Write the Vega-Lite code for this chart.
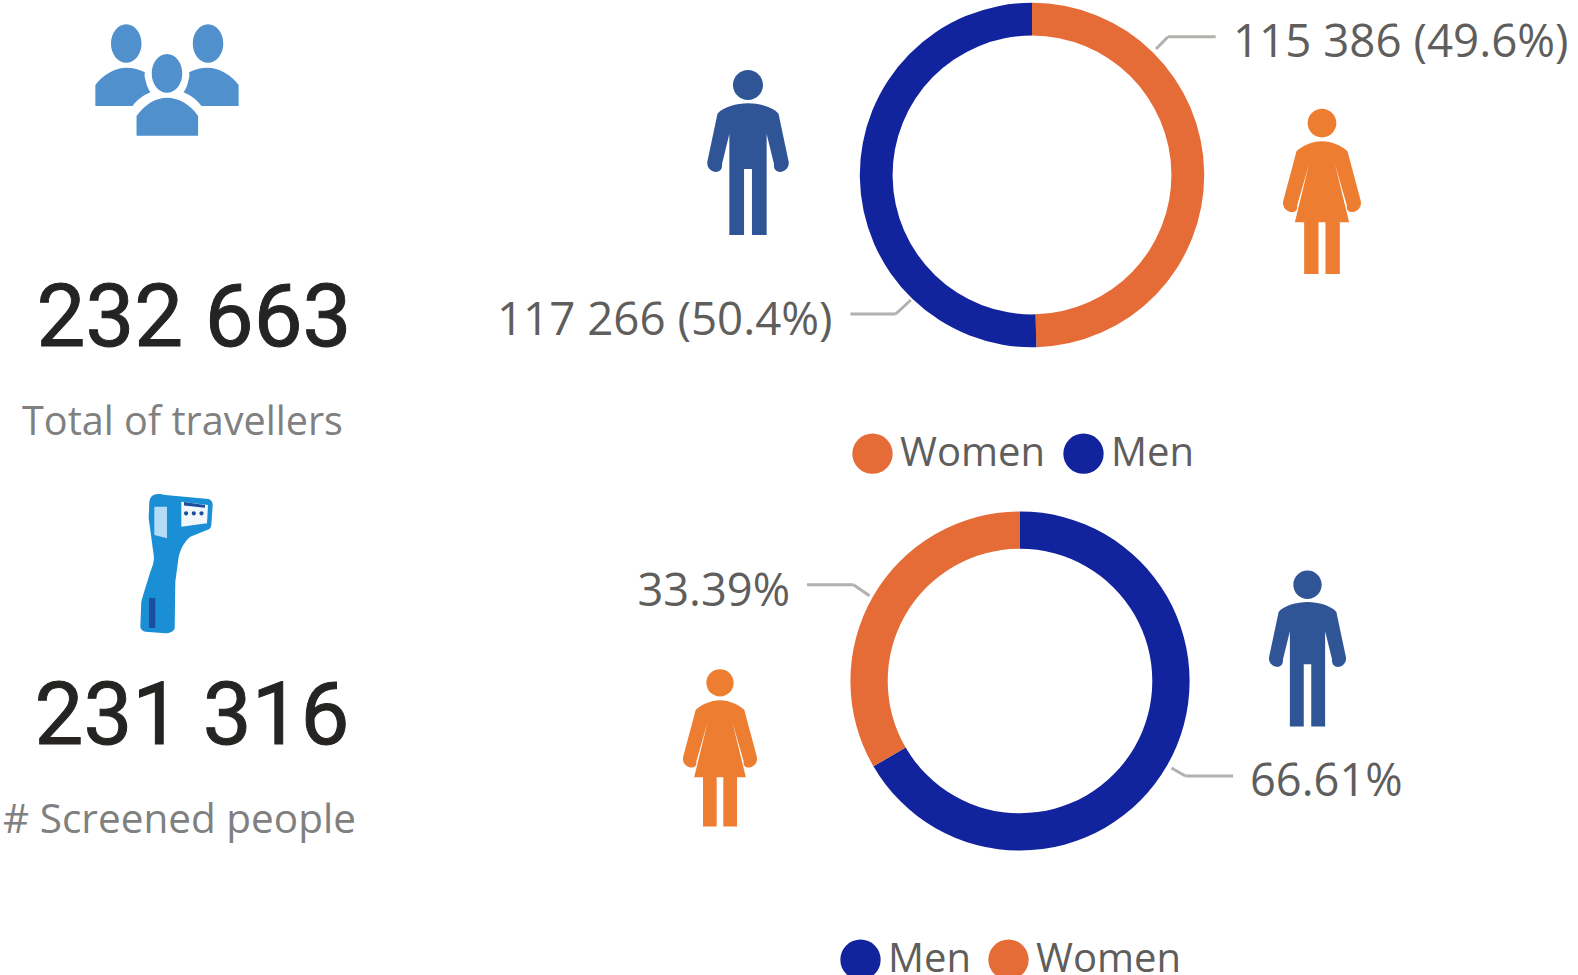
{"$schema":"https://vega.github.io/schema/vega-lite/v6.json","padding":0,"background":"white","bounds":"flush","spacing":486,"config":{"view":{"stroke":null},"axis":{"disable":true},"text":{"font":"Open Sans"}},"resolve":{"scale":{"color":"independent"}},"datasets":{"women1":[{"gender":"Women","count":115386},{"gender":"Men","count":117266}],"women2":[{"gender":"Men","share":66.61},{"gender":"Women","share":33.39}]},"hconcat":[{"spacing":0,"bounds":"flush","vconcat":[{"width":334,"height":272,"data":{"values":[{"icon":"Travellers"}]},"mark":{"type":"point","filled":true,"opacity":1,"color":"#5090CD","size":20736,"strokeWidth":0,"shape":"M-.778 -.508A.212 .268 0 1 0 -.354 -.508A.212 .268 0 1 0 -.778 -.508ZM.358 -.508A.212 .268 0 1 0 .782 -.508A.212 .268 0 1 0 .358 -.508ZM-.212 -.092A.212 .268 0 1 0 .212 -.092A.212 .268 0 1 0 -.212 -.092ZM-.995 .36L-.995 .07C-.9 -.07 -.72 -.171 -.561 -.171C-.47 -.171 -.38 -.145 -.307 -.106C-.32 -.05 -.3 0 -.293 .023C-.28 .09 -.25 .14 -.229 .171C-.33 .21 -.42 .28 -.478 .36ZM.995 .36L.995 .07C.9 -.07 .72 -.171 .561 -.171C.47 -.171 .38 -.145 .307 -.106C.32 -.05 .3 0 .293 .023C.28 .09 .25 .14 .229 .171C.33 .21 .42 .28 .478 .36ZM-.423 .776L-.423 .499C-.3 .33 -.15 .245 0 .245C.15 .245 .32 .33 .432 .499L.432 .776Z"},"encoding":{"y":{"datum":80,"type":"quantitative","scale":{"domain":[272,0]}}}},{"width":388,"height":96,"data":{"values":[{"metric":"Total of travellers","value":"232 663"}]},"mark":{"type":"text","font":"Roboto","fontSize":87,"fontWeight":400,"color":"#252423","stroke":"#252423","strokeWidth":1,"align":"center","baseline":"middle"},"encoding":{"text":{"field":"value"}}},{"width":365,"height":110,"data":{"values":[{"metric":"Total of travellers"}]},"mark":{"type":"text","fontSize":39.6,"color":"#808080","align":"center","baseline":"middle"},"encoding":{"text":{"field":"metric"}}},{"width":354,"height":170,"data":{"values":[{"icon":"Thermometer"}]},"layer":[{"mark":{"type":"point","filled":true,"opacity":1,"color":"#1A8FD6","size":19600,"strokeWidth":0,"shape":"M-.333 -.971C-.28 -1 -.2 -.98 -.167 -.971L.452 -.914C.49 -.9 .51 -.87 .51 -.829L.49 -.543C.485 -.5 .46 -.48 .429 -.471L.19 -.376C.1 -.3 .05 -.2 .024 -.09L-.024 .267L-.033 .933C-.05 .98 -.1 1.005 -.167 1.005L-.452 .981C-.5 .97 -.52 .94 -.524 .91L-.51 .552C-.47 .4 -.42 .26 -.381 .124C-.35 .05 -.32 -.03 -.333 -.114L-.405 -.638L-.395 -.876C-.39 -.93 -.36 -.96 -.333 -.971Z"}},{"mark":{"type":"point","filled":true,"opacity":1,"color":"#B5DCF5","size":19600,"strokeWidth":0,"shape":"M-.324 -.805L-.143 -.805L-.143 -.352L-.324 -.4Z"}},{"mark":{"type":"point","filled":true,"opacity":1,"color":"#F2F7FB","size":19600,"strokeWidth":0,"shape":"M.062 -.876L.443 -.829L.429 -.567L.062 -.519Z"}},{"mark":{"type":"point","filled":true,"opacity":1,"color":"#1B4F9C","size":19600,"strokeWidth":0,"shape":"M.1 -.87L.4 -.83L.4 -.79L.1 -.82ZM.1 -.71A.03 .03 0 1 0 .16 -.71A.03 .03 0 1 0 .1 -.71ZM.21 -.71A.03 .03 0 1 0 .27 -.71A.03 .03 0 1 0 .21 -.71ZM.32 -.71A.03 .03 0 1 0 .38 -.71A.03 .03 0 1 0 .32 -.71ZM-.4 .5L-.31 .5L-.31 .93L-.4 .93Z"}}]},{"width":384,"height":140,"data":{"values":[{"metric":"# Screened people","value":"231 316"}]},"mark":{"type":"text","font":"Roboto","fontSize":87,"fontWeight":400,"color":"#252423","stroke":"#252423","strokeWidth":1,"align":"center","baseline":"middle"},"encoding":{"text":{"field":"value"}}},{"width":359,"height":66,"data":{"values":[{"metric":"# Screened people"}]},"mark":{"type":"text","fontSize":40.5,"color":"#808080","align":"center","baseline":"middle"},"encoding":{"text":{"field":"metric"}}}]},{"spacing":150,"bounds":"flush","resolve":{"scale":{"color":"independent"}},"vconcat":[{"width":1092,"height":350,"layer":[{"data":{"name":"women1"},"mark":{"type":"arc","radius":172.2,"radius2":139.4},"encoding":{"theta":{"field":"count","type":"quantitative","stack":true},"order":{"field":"count","sort":"ascending"},"color":{"field":"gender","type":"nominal","scale":{"domain":["Women","Men"],"range":["#E66C37","#12239E"]},"legend":{"orient":"none","legendX":366,"legendY":433,"title":null,"direction":"horizontal","symbolType":"circle","symbolSize":1625,"symbolStrokeWidth":0,"symbolOpacity":1,"labelFontSize":40,"labelFont":"Open Sans","labelColor":"#605E5C","labelOffset":7,"columnPadding":17,"padding":0,"labelLimit":300}}}},{"data":{"values":[{"leader":"Women"}]},"mark":{"type":"rule","color":"#B3B0AD","strokeWidth":3},"encoding":{"x":{"datum":124,"type":"quantitative","scale":{"domain":[-546,546]}},"y":{"datum":126,"type":"quantitative","scale":{"domain":[-175,175]}},"x2":{"datum":136},"y2":{"datum":138.3}}},{"data":{"values":[{"leader":"Women"}]},"mark":{"type":"rule","color":"#B3B0AD","strokeWidth":3},"encoding":{"x":{"datum":136,"type":"quantitative","scale":{"domain":[-546,546]}},"y":{"datum":138.3,"type":"quantitative","scale":{"domain":[-175,175]}},"x2":{"datum":183.7},"y2":{"datum":138.3}}},{"data":{"values":[{"leader":"Men"}]},"mark":{"type":"rule","color":"#B3B0AD","strokeWidth":3},"encoding":{"x":{"datum":-181.6,"type":"quantitative","scale":{"domain":[-546,546]}},"y":{"datum":-139,"type":"quantitative","scale":{"domain":[-175,175]}},"x2":{"datum":-136.3},"y2":{"datum":-139}}},{"data":{"values":[{"leader":"Men"}]},"mark":{"type":"rule","color":"#B3B0AD","strokeWidth":3},"encoding":{"x":{"datum":-136.3,"type":"quantitative","scale":{"domain":[-546,546]}},"y":{"datum":-139,"type":"quantitative","scale":{"domain":[-175,175]}},"x2":{"datum":-121.2},"y2":{"datum":-125}}},{"data":{"values":[{"label":"115 386 (49.6%)"}]},"mark":{"type":"text","fontSize":45.7,"color":"#605E5C","align":"left","baseline":"middle"},"encoding":{"text":{"field":"label"},"x":{"datum":201,"type":"quantitative","scale":{"domain":[-546,546]}},"y":{"datum":132,"type":"quantitative","scale":{"domain":[-175,175]}}}},{"data":{"values":[{"label":"117 266 (50.4%)"}]},"mark":{"type":"text","fontSize":45.7,"color":"#605E5C","align":"right","baseline":"middle"},"encoding":{"text":{"field":"label"},"x":{"datum":-199.5,"type":"quantitative","scale":{"domain":[-546,546]}},"y":{"datum":-146,"type":"quantitative","scale":{"domain":[-175,175]}}}},{"data":{"values":[{"icon":"Man"}]},"mark":{"type":"point","filled":true,"opacity":1,"color":"#2F5597","size":27225,"strokeWidth":0,"shape":"M-.182 -.818A.182 .182 0 1 0 .182 -.818A.182 .182 0 1 0 -.182 -.818ZM0 -.596C-.14 -.596 -.3 -.55 -.37 -.47L-.493 .111C-.51 .25 -.3 .29 -.315 .139L-.226 -.224L-.226 1L-.048 1L-.048 .2L.048 .2L.048 1L.226 1L.226 -.224L.315 .139C.3 .29 .51 .25 .493 .111L.37 -.47C.3 -.55 .14 -.596 0 -.596Z"},"encoding":{"x":{"datum":-284,"type":"quantitative","scale":{"domain":[-546,546]}},"y":{"datum":22.5,"type":"quantitative","scale":{"domain":[-175,175]}}}},{"data":{"values":[{"icon":"Woman"}]},"mark":{"type":"point","filled":true,"opacity":1,"color":"#ED7D31","size":27556,"strokeWidth":0,"shape":"M-.173 -.819A.173 .173 0 1 0 .173 -.819A.173 .173 0 1 0 -.173 -.819ZM0 -.598C-.12 -.598 -.24 -.54 -.307 -.478L-.468 .124C-.49 .26 -.28 .31 -.299 .173L-.158 -.317L-.327 .378L-.215 .378L-.215 1L-.042 1L-.042 .378L.042 .378L.042 1L.215 1L.215 .378L.327 .378L.158 -.317L.299 .173C.28 .31 .49 .26 .468 .124L.307 -.478C.24 -.54 .12 -.598 0 -.598Z"},"encoding":{"x":{"datum":290,"type":"quantitative","scale":{"domain":[-546,546]}},"y":{"datum":-16,"type":"quantitative","scale":{"domain":[-175,175]}}}}]},{"width":1068,"height":362,"layer":[{"data":{"name":"women2"},"mark":{"type":"arc","radius":169.6,"radius2":132.3},"encoding":{"theta":{"field":"share","type":"quantitative","stack":true},"order":{"field":"share","sort":"descending"},"color":{"field":"gender","type":"nominal","scale":{"domain":["Men","Women"],"range":["#12239E","#E66C37"]},"legend":{"orient":"none","legendX":354,"legendY":439,"title":null,"direction":"horizontal","symbolType":"circle","symbolSize":1625,"symbolStrokeWidth":0,"symbolOpacity":1,"labelFontSize":40,"labelFont":"Open Sans","labelColor":"#605E5C","labelOffset":7,"columnPadding":17,"padding":0,"labelLimit":300}}}},{"data":{"values":[{"leader":"Women"}]},"mark":{"type":"rule","color":"#B3B0AD","strokeWidth":3},"encoding":{"x":{"datum":-213,"type":"quantitative","scale":{"domain":[-534,534]}},"y":{"datum":96.3,"type":"quantitative","scale":{"domain":[-181,181]}},"x2":{"datum":-166.6},"y2":{"datum":96.3}}},{"data":{"values":[{"leader":"Women"}]},"mark":{"type":"rule","color":"#B3B0AD","strokeWidth":3},"encoding":{"x":{"datum":-166.6,"type":"quantitative","scale":{"domain":[-534,534]}},"y":{"datum":96.3,"type":"quantitative","scale":{"domain":[-181,181]}},"x2":{"datum":-150.5},"y2":{"datum":85.2}}},{"data":{"values":[{"leader":"Men"}]},"mark":{"type":"rule","color":"#B3B0AD","strokeWidth":3},"encoding":{"x":{"datum":213,"type":"quantitative","scale":{"domain":[-534,534]}},"y":{"datum":-95,"type":"quantitative","scale":{"domain":[-181,181]}},"x2":{"datum":165.5},"y2":{"datum":-95}}},{"data":{"values":[{"leader":"Men"}]},"mark":{"type":"rule","color":"#B3B0AD","strokeWidth":3},"encoding":{"x":{"datum":165.5,"type":"quantitative","scale":{"domain":[-534,534]}},"y":{"datum":-95,"type":"quantitative","scale":{"domain":[-181,181]}},"x2":{"datum":151.4},"y2":{"datum":-87}}},{"data":{"values":[{"label":"33.39%"}]},"mark":{"type":"text","fontSize":45.2,"color":"#605E5C","align":"right","baseline":"middle"},"encoding":{"text":{"field":"label"},"x":{"datum":-230,"type":"quantitative","scale":{"domain":[-534,534]}},"y":{"datum":89,"type":"quantitative","scale":{"domain":[-181,181]}}}},{"data":{"values":[{"label":"66.61%"}]},"mark":{"type":"text","fontSize":45.2,"color":"#605E5C","align":"left","baseline":"middle"},"encoding":{"text":{"field":"label"},"x":{"datum":230,"type":"quantitative","scale":{"domain":[-534,534]}},"y":{"datum":-101,"type":"quantitative","scale":{"domain":[-181,181]}}}},{"data":{"values":[{"icon":"Man"}]},"mark":{"type":"point","filled":true,"opacity":1,"color":"#2F5597","size":24336,"strokeWidth":0,"shape":"M-.182 -.818A.182 .182 0 1 0 .182 -.818A.182 .182 0 1 0 -.182 -.818ZM0 -.596C-.14 -.596 -.3 -.55 -.37 -.47L-.493 .111C-.51 .25 -.3 .29 -.315 .139L-.226 -.224L-.226 1L-.048 1L-.048 .2L.048 .2L.048 1L.226 1L.226 -.224L.315 .139C.3 .29 .51 .25 .493 .111L.37 -.47C.3 -.55 .14 -.596 0 -.596Z"},"encoding":{"x":{"datum":287.5,"type":"quantitative","scale":{"domain":[-534,534]}},"y":{"datum":32.4,"type":"quantitative","scale":{"domain":[-181,181]}}}},{"data":{"values":[{"icon":"Woman"}]},"mark":{"type":"point","filled":true,"opacity":1,"color":"#ED7D31","size":24964,"strokeWidth":0,"shape":"M-.173 -.819A.173 .173 0 1 0 .173 -.819A.173 .173 0 1 0 -.173 -.819ZM0 -.598C-.12 -.598 -.24 -.54 -.307 -.478L-.468 .124C-.49 .26 -.28 .31 -.299 .173L-.158 -.317L-.327 .378L-.215 .378L-.215 1L-.042 1L-.042 .378L.042 .378L.042 1L.215 1L.215 .378L.327 .378L.158 -.317L.299 .173C.28 .31 .49 .26 .468 .124L.307 -.478C.24 -.54 .12 -.598 0 -.598Z"},"encoding":{"x":{"datum":-300,"type":"quantitative","scale":{"domain":[-534,534]}},"y":{"datum":-66.5,"type":"quantitative","scale":{"domain":[-181,181]}}}}]}]}]}
